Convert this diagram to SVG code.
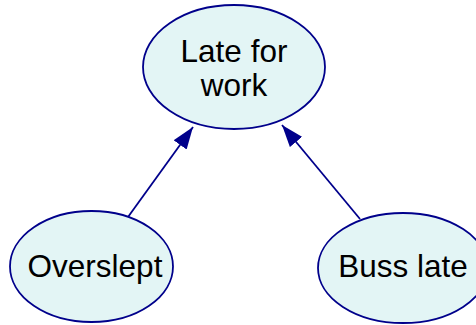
<svg xmlns="http://www.w3.org/2000/svg" width="476" height="325" viewBox="0 0 476 325">
  <style>
    .node ellipse { fill: #e3f5f5; stroke: #00008b; stroke-width: 1.8; }
    .node text { font-family: "Liberation Sans", Arial, sans-serif; font-size: 31.5px; fill: #000; text-anchor: middle; }
    .edge { stroke: #00008b; stroke-width: 1.8; fill: none; marker-end: url(#arrow); }
  </style>
  <defs>
    <marker id="arrow" viewBox="0 0 22 16" refX="22" refY="8" markerWidth="22" markerHeight="16" markerUnits="userSpaceOnUse" orient="auto">
      <path d="M0,0 L22,8 L0,16 Z" fill="#00008b"/>
    </marker>
  </defs>
  <g id="connectors">
    <line class="edge" x1="128" y1="217" x2="193" y2="127"/>
    <line class="edge" x1="360" y1="219" x2="282" y2="125"/>
  </g>
  <g id="late-for-work" class="node">
    <ellipse cx="234" cy="67" rx="91" ry="62"/>
    <text x="234" y="62">Late for</text>
    <text x="234" y="96">work</text>
  </g>
  <g id="overslept" class="node">
    <ellipse cx="91.5" cy="266.5" rx="81.5" ry="55.5"/>
    <text x="95" y="277">Overslept</text>
  </g>
  <g id="buss-late" class="node">
    <ellipse cx="403" cy="268" rx="85" ry="55"/>
    <text x="403" y="277">Buss late</text>
  </g>
</svg>
